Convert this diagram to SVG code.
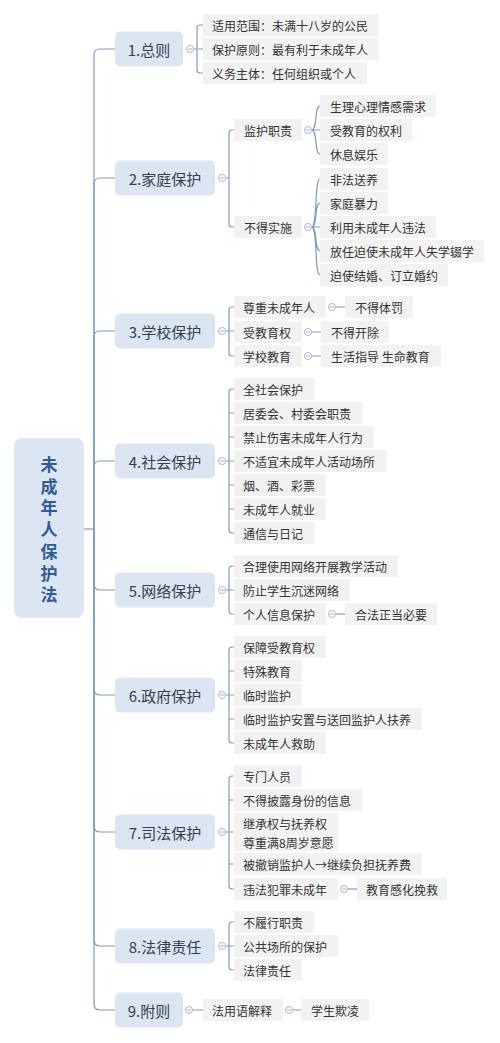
<svg xmlns="http://www.w3.org/2000/svg" width="500" height="1043" viewBox="0 0 500 1043">
<style>
text{font-family:"Noto Sans CJK SC","Noto Sans",sans-serif}
.root{fill:#dce6f2}
.rt{font-size:17px;font-weight:bold;fill:#2f5d96;text-anchor:middle;writing-mode:vertical-rl;letter-spacing:4.7px}
.l1{fill:#dce6f2}
.t1{font-size:15px;fill:#34404e;text-anchor:middle;dominant-baseline:central}
.lf{fill:#f2f2f2}
.t2{font-size:12px;fill:#333;dominant-baseline:central}
.c{fill:none;stroke:#7f9dc6;stroke-width:1.2}
.k{fill:#fff;stroke:#a3b6d2;stroke-width:1}
.km{stroke:#a3b6d2;stroke-width:1}
</style>
<rect width="500" height="1043" fill="#fff"/>
<g id="connectors">
<path class="c" d="M84,529 H94"/>
<path class="c" d="M94,529 V55 Q94,49 100,49 H115"/>
<path class="c" d="M94,529 V184 Q94,178 100,178 H115"/>
<path class="c" d="M94,529 V337 Q94,331 100,331 H115"/>
<path class="c" d="M94,529 V467 Q94,461 100,461 H115"/>
<path class="c" d="M94,529 V584 Q94,590 100,590 H115"/>
<path class="c" d="M94,529 V689 Q94,695 100,695 H115"/>
<path class="c" d="M94,529 V826 Q94,832 100,832 H115"/>
<path class="c" d="M94,529 V940 Q94,946 100,946 H115"/>
<path class="c" d="M94,529 V1004 Q94,1010 100,1010 H115"/>
<path class="c" d="M193.5,49 H203 M197,49 V28 Q197,25 200,25 H203 M197,49 V70 Q197,73 200,73 H203"/>
<path class="c" d="M225.5,178 H229 V133 Q229,130 232,130 H234 M229,178 V224 Q229,227 232,227 H234"/>
<path class="c" d="M311.5,130 H320 M311.5,130 C318,130 314,106 320,106 M311.5,130 C318,130 314,154 320,154"/>
<path class="c" d="M311.5,227 H320 M311.5,227 C318,227 314,179 320,179 M311.5,227 C318,227 314,203 320,203 M311.5,227 C318,227 314,251 320,251 M311.5,227 C318,227 314,275 320,275"/>
<path class="c" d="M225.5,331 H234 M229,331 V310 Q229,307 232,307 H234 M229,331 V353 Q229,356 232,356 H234"/>
<path class="c" d="M335.5,307 H345 M311.5,332 H321 M311.5,356 H321"/>
<path class="c" d="M225.5,461 H234 M229,461 V392 Q229,389 232,389 H234 M229,413 H234 M229,437 H234 M229,485 H234 M229,509 H234 M229,461 V530 Q229,533 232,533 H234"/>
<path class="c" d="M225.5,590 H234 M229,590 V569 Q229,566 232,566 H234 M229,590 V611 Q229,614 232,614 H234"/>
<path class="c" d="M335.5,614 H345"/>
<path class="c" d="M225.5,695 H234 M229,695 V650 Q229,647 232,647 H234 M229,671 H234 M229,719 H234 M229,695 V740 Q229,743 232,743 H234"/>
<path class="c" d="M225.5,832 H234 M229,832 V779 Q229,776 232,776 H234 M229,800 H234 M229,864 H234 M229,832 V886 Q229,889 232,889 H234"/>
<path class="c" d="M347.5,889 H357"/>
<path class="c" d="M225.5,946 H234 M229,946 V925 Q229,922 232,922 H234 M229,946 V967 Q229,970 232,970 H234"/>
<path class="c" d="M192.5,1010 H203 M292.5,1010 H301"/>
</g>
<g id="root"><rect class="root" x="14" y="438" width="70" height="180" rx="8"/>
<text class="rt" x="49" y="532">未成年人保护法</text></g>
<g id="n1"><rect class="l1" x="115" y="31.5" width="68" height="35" rx="5"/><text class="t1" x="149" y="49">1.总则</text>
<circle class="k" cx="190" cy="49" r="3.5"/><path class="km" d="M188,49 H192"/></g>
<g id="n1a"><rect class="lf" x="203" y="14" width="176" height="22"/><text class="t2" x="212" y="25">适用范围：未满十八岁的公民</text></g>
<g id="n1b"><rect class="lf" x="203" y="38" width="176" height="22"/><text class="t2" x="212" y="49">保护原则：最有利于未成年人</text></g>
<g id="n1c"><rect class="lf" x="203" y="62" width="164" height="22"/><text class="t2" x="212" y="73">义务主体：任何组织或个人</text></g>
<g id="n2"><rect class="l1" x="115" y="160.5" width="100" height="35" rx="5"/><text class="t1" x="165" y="178">2.家庭保护</text>
<circle class="k" cx="222" cy="178" r="3.5"/><path class="km" d="M220,178 H224"/></g>
<g id="n2a"><rect class="lf" x="234" y="119" width="68" height="22"/><text class="t2" x="244" y="130">监护职责</text>
<circle class="k" cx="308" cy="130" r="3.5"/><path class="km" d="M306,130 H310"/></g>
<g id="n2a1"><rect class="lf" x="320" y="95" width="116" height="22"/><text class="t2" x="330" y="106">生理心理情感需求</text></g>
<g id="n2a2"><rect class="lf" x="320" y="119" width="92" height="22"/><text class="t2" x="330" y="130">受教育的权利</text></g>
<g id="n2a3"><rect class="lf" x="320" y="143" width="68" height="22"/><text class="t2" x="330" y="154">休息娱乐</text></g>
<g id="n2b"><rect class="lf" x="234" y="216" width="68" height="22"/><text class="t2" x="244" y="227">不得实施</text>
<circle class="k" cx="308" cy="227" r="3.5"/><path class="km" d="M306,227 H310"/></g>
<g id="n2b1"><rect class="lf" x="320" y="168" width="68" height="22"/><text class="t2" x="330" y="179">非法送养</text></g>
<g id="n2b2"><rect class="lf" x="320" y="192" width="68" height="22"/><text class="t2" x="330" y="203">家庭暴力</text></g>
<g id="n2b3"><rect class="lf" x="320" y="216" width="116" height="22"/><text class="t2" x="330" y="227">利用未成年人违法</text></g>
<g id="n2b4"><rect class="lf" x="320" y="240" width="164" height="22"/><text class="t2" x="330" y="251">放任迫使未成年人失学辍学</text></g>
<g id="n2b5"><rect class="lf" x="320" y="264" width="128" height="22"/><text class="t2" x="330" y="275">迫使结婚、订立婚约</text></g>
<g id="n3"><rect class="l1" x="115" y="313.5" width="100" height="35" rx="5"/><text class="t1" x="165" y="331">3.学校保护</text>
<circle class="k" cx="222" cy="331" r="3.5"/><path class="km" d="M220,331 H224"/></g>
<g id="n3a"><rect class="lf" x="234" y="296" width="92" height="22"/><text class="t2" x="243" y="307">尊重未成年人</text>
<circle class="k" cx="332" cy="307" r="3.5"/><path class="km" d="M330,307 H334"/></g>
<g id="n3a1"><rect class="lf" x="345" y="296" width="68" height="22"/><text class="t2" x="355" y="307">不得体罚</text></g>
<g id="n3b"><rect class="lf" x="234" y="321" width="68" height="22"/><text class="t2" x="243" y="332">受教育权</text>
<circle class="k" cx="308" cy="332" r="3.5"/><path class="km" d="M306,332 H310"/></g>
<g id="n3b1"><rect class="lf" x="321" y="321" width="68" height="22"/><text class="t2" x="331" y="332">不得开除</text></g>
<g id="n3c"><rect class="lf" x="234" y="345" width="68" height="22"/><text class="t2" x="243" y="356">学校教育</text>
<circle class="k" cx="308" cy="356" r="3.5"/><path class="km" d="M306,356 H310"/></g>
<g id="n3c1"><rect class="lf" x="321" y="345" width="120" height="22"/><text class="t2" x="331" y="356">生活指导 生命教育</text></g>
<g id="n4"><rect class="l1" x="115" y="443.5" width="100" height="35" rx="5"/><text class="t1" x="165" y="461">4.社会保护</text>
<circle class="k" cx="222" cy="461" r="3.5"/><path class="km" d="M220,461 H224"/></g>
<g id="n4a"><rect class="lf" x="234" y="378" width="80" height="22"/><text class="t2" x="243" y="389">全社会保护</text></g>
<g id="n4b"><rect class="lf" x="234" y="402" width="128" height="22"/><text class="t2" x="243" y="413">居委会、村委会职责</text></g>
<g id="n4c"><rect class="lf" x="234" y="426" width="140" height="22"/><text class="t2" x="243" y="437">禁止伤害未成年人行为</text></g>
<g id="n4d"><rect class="lf" x="234" y="450" width="152" height="22"/><text class="t2" x="243" y="461">不适宜未成年人活动场所</text></g>
<g id="n4e"><rect class="lf" x="234" y="474" width="92" height="22"/><text class="t2" x="243" y="485">烟、酒、彩票</text></g>
<g id="n4f"><rect class="lf" x="234" y="498" width="92" height="22"/><text class="t2" x="243" y="509">未成年人就业</text></g>
<g id="n4g"><rect class="lf" x="234" y="522" width="80" height="22"/><text class="t2" x="243" y="533">通信与日记</text></g>
<g id="n5"><rect class="l1" x="115" y="572.5" width="100" height="35" rx="5"/><text class="t1" x="165" y="590">5.网络保护</text>
<circle class="k" cx="222" cy="590" r="3.5"/><path class="km" d="M220,590 H224"/></g>
<g id="n5a"><rect class="lf" x="234" y="555" width="164" height="22"/><text class="t2" x="243" y="566">合理使用网络开展教学活动</text></g>
<g id="n5b"><rect class="lf" x="234" y="579" width="116" height="22"/><text class="t2" x="243" y="590">防止学生沉迷网络</text></g>
<g id="n5c"><rect class="lf" x="234" y="603" width="92" height="22"/><text class="t2" x="243" y="614">个人信息保护</text>
<circle class="k" cx="332" cy="614" r="3.5"/><path class="km" d="M330,614 H334"/></g>
<g id="n5c1"><rect class="lf" x="345" y="603" width="92" height="22"/><text class="t2" x="355" y="614">合法正当必要</text></g>
<g id="n6"><rect class="l1" x="115" y="677.5" width="100" height="35" rx="5"/><text class="t1" x="165" y="695">6.政府保护</text>
<circle class="k" cx="222" cy="695" r="3.5"/><path class="km" d="M220,695 H224"/></g>
<g id="n6a"><rect class="lf" x="234" y="636" width="92" height="22"/><text class="t2" x="243" y="647">保障受教育权</text></g>
<g id="n6b"><rect class="lf" x="234" y="660" width="68" height="22"/><text class="t2" x="243" y="671">特殊教育</text></g>
<g id="n6c"><rect class="lf" x="234" y="684" width="68" height="22"/><text class="t2" x="243" y="695">临时监护</text></g>
<g id="n6d"><rect class="lf" x="234" y="708" width="188" height="22"/><text class="t2" x="243" y="719">临时监护安置与送回监护人扶养</text></g>
<g id="n6e"><rect class="lf" x="234" y="732" width="92" height="22"/><text class="t2" x="243" y="743">未成年人救助</text></g>
<g id="n7"><rect class="l1" x="115" y="814.5" width="100" height="35" rx="5"/><text class="t1" x="165" y="832">7.司法保护</text>
<circle class="k" cx="222" cy="832" r="3.5"/><path class="km" d="M220,832 H224"/></g>
<g id="n7a"><rect class="lf" x="234" y="765" width="68" height="22"/><text class="t2" x="243" y="776">专门人员</text></g>
<g id="n7b"><rect class="lf" x="234" y="789" width="128" height="22"/><text class="t2" x="243" y="800">不得披露身份的信息</text></g>
<g id="n7c"><rect class="lf" x="234" y="813" width="104" height="38"/><text class="t2" x="243" y="823">继承权与抚养权</text><text class="t2" x="243" y="842">尊重满8周岁意愿</text></g>
<g id="n7d"><rect class="lf" x="234" y="853" width="188" height="22"/><text class="t2" x="243" y="864">被撤销监护人→继续负担抚养费</text></g>
<g id="n7e"><rect class="lf" x="234" y="878" width="104" height="22"/><text class="t2" x="243" y="889">违法犯罪未成年</text>
<circle class="k" cx="344" cy="889" r="3.5"/><path class="km" d="M342,889 H346"/></g>
<g id="n7e1"><rect class="lf" x="357" y="878" width="90" height="22"/><text class="t2" x="366" y="889">教育感化挽救</text></g>
<g id="n8"><rect class="l1" x="115" y="928.5" width="100" height="35" rx="5"/><text class="t1" x="165" y="946">8.法律责任</text>
<circle class="k" cx="222" cy="946" r="3.5"/><path class="km" d="M220,946 H224"/></g>
<g id="n8a"><rect class="lf" x="234" y="911" width="80" height="22"/><text class="t2" x="243" y="922">不履行职责</text></g>
<g id="n8b"><rect class="lf" x="234" y="935" width="104" height="22"/><text class="t2" x="243" y="946">公共场所的保护</text></g>
<g id="n8c"><rect class="lf" x="234" y="959" width="68" height="22"/><text class="t2" x="243" y="970">法律责任</text></g>
<g id="n9"><rect class="l1" x="115" y="992.5" width="68" height="35" rx="5"/><text class="t1" x="149" y="1010">9.附则</text>
<circle class="k" cx="189" cy="1010" r="3.5"/><path class="km" d="M187,1010 H191"/></g>
<g id="n9a"><rect class="lf" x="203" y="999" width="80" height="22"/><text class="t2" x="212" y="1010">法用语解释</text>
<circle class="k" cx="289" cy="1010" r="3.5"/><path class="km" d="M287,1010 H291"/></g>
<g id="n9a1"><rect class="lf" x="301" y="999" width="68" height="22"/><text class="t2" x="311" y="1010">学生欺凌</text></g>
</svg>
